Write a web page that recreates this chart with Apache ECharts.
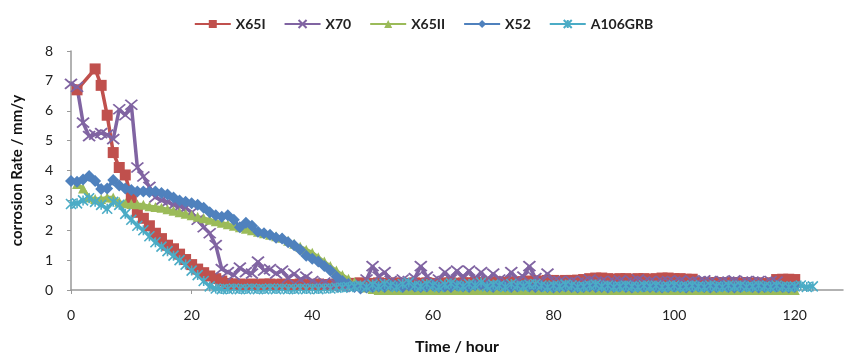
<!DOCTYPE html>
<html><head><meta charset="utf-8">
<script src="https://cdn.jsdelivr.net/npm/echarts@6/dist/echarts.min.js"></script>
<style>html,body{margin:0;padding:0;background:#fff}#c{width:847px;height:360px}</style>
</head><body><div id="c"></div>
<script>
var seriesNames = ['X65I','X70','X65II','X52','A106GRB'];
var xTicks = [0,20,40,60,80,100,120];
// values per hour (index = hour); null = no reading
var x65I = [null,6.7,null,null,7.4,6.85,5.85,4.6,4.1,3.85,3.1,2.6,2.4,2.15,1.9,1.72,1.5,1.38,1.2,1.02,0.85,0.7,0.58,0.47,0.38,0.3,
 0.22,0.2,0.2,0.18,0.2,0.18,0.2,0.2,0.18,0.2,0.18,0.18,0.2,0.18,0.18,0.2,0.18,0.18,0.2,0.2,
 0.22,0.22,0.24,0.22,0.22,0.24,0.22,0.22,0.24,0.22,0.22,0.24,0.22,0.24,0.22,0.22,0.24,0.24,0.22,0.24,0.24,0.25,0.25,0.24,0.27,0.27,0.25,0.27,0.27,0.28,0.3,0.3,0.3,0.32,
 0.32,0.3,0.32,0.32,0.33,0.35,
 0.38,0.4,0.4,0.38,0.36,0.38,0.38,0.36,0.38,0.38,0.36,0.38,0.4,0.4,0.38,0.38,0.36,0.36,
 0.25,0.25,0.24,0.25,0.24,0.25,0.25,0.24,0.25,0.24,0.24,0.22,0.24,
 0.35,0.36,0.36,0.35];
var x70 = [6.9,6.8,5.6,5.15,5.2,5.25,5.2,5.05,6.05,5.85,6.2,4.1,3.8,3.45,3.1,3.0,2.95,2.85,2.8,2.75,2.6,2.35,2.1,1.9,1.5,0.7,0.6,
 0.5,0.75,0.6,0.55,0.95,0.65,0.7,0.55,0.65,0.4,0.55,0.35,0.45,
 0.3,0.2,0.25,0.15,0.2,0.1,0.15,0.1,0.2,0.35,0.8,0.45,0.6,0.3,0.25,0.35,0.3,0.4,0.8,0.45,0.3,0.35,0.6,0.35,0.65,0.4,0.65,0.35,0.6,0.3,0.55,0.35,0.3,0.6,0.35,0.45,0.8,0.4,0.3,0.55,0.3,
 0.3,0.25,0.3,0.25,0.3,0.35,0.28,0.3,0.25,0.3,0.32,0.25,0.3,0.35,0.28,0.3,0.25,0.3,0.3,0.28,0.32,0.25,0.3,0.28,0.32,0.3,0.25,0.3,0.28,0.32,0.25,0.3,0.28,0.3,0.25,0.3,0.28];
var x65II = [null,3.55,3.4,3.1,3.05,3.05,3.1,3.1,2.95,2.9,2.88,2.87,2.85,2.8,2.78,2.75,2.7,2.65,2.6,2.55,2.5,2.45,2.4,2.35,2.3,2.25,2.2,2.15,2.1,2.05,2.0,1.95,1.9,1.85,1.8,1.75,1.65,1.55,1.45,1.35,1.25,1.1,0.95,0.8,0.65,0.5,0.38,0.27,0.15,0.08,0.03,
 0,0,0,0,0,0,0,0,0,0,0,0,0,0,0,0,0,0,0,0,0,0,0,0,0,0,0,0,0,0,0,0,0,0,0,0,0,0,0,0,0,0,0,0,0,0,0,0,0,0,0,0,0,0,0,0,0,0,0,0,0,0,0,0,0,0,0,0,0,0];
var x52 = [3.65,3.62,3.7,3.82,3.65,3.38,3.4,3.68,3.5,3.4,3.35,3.3,3.3,3.28,3.3,3.25,3.2,3.1,3.0,2.95,2.9,2.85,2.75,2.6,2.5,2.45,2.5,2.35,2.1,2.25,2.15,1.95,1.9,1.85,1.75,1.72,1.6,1.5,1.35,1.15,1.05,0.95,0.8,0.65,0.45,0.3,0.2,0.1,0.05,
 0.08,0.1,0.12,0.1,0.15,0.12,0.1,0.15,0.12,0.1,0.12,0.15,0.1,0.12,0.1,0.15,0.12,0.1,0.15,0.18,0.12,0.1,0.15,0.12,0.1,0.12,0.15,0.12,0.1,0.12,0.1,0.08,0.1,0.12,0.1,0.08,0.1,0.12,0.1,0.1,0.08,0.1,0.12,0.1,0.08,0.1,0.12,0.1,0.1,0.08,0.1,0.12,0.1,0.08,0.1,0.12,0.1,0.08,0.1,0.12,0.1,0.08,0.1,0.12,0.1,0.08,0.1,0.1,0.12,0.1,0.08,0.1];
var a106grb = [2.88,2.9,3.0,3.07,2.95,2.85,2.72,2.95,2.85,2.55,2.35,2.15,2.0,1.8,1.6,1.45,1.3,1.15,1.0,0.85,0.65,0.5,0.3,0.12,
 0.05,0.03,0.03,0.05,0.03,0.03,0.05,0.03,0.03,0.05,0.03,0.05,0.03,0.03,0.05,0.03,0.05,0.03,0.05,0.05,0.08,0.08,
 0.1,0.12,0.15,0.1,0.18,0.12,0.2,0.15,0.1,0.2,0.25,0.15,0.12,0.2,0.15,0.1,0.18,0.22,0.15,0.12,0.2,0.15,0.25,0.12,0.18,0.15,0.1,0.2,0.15,0.12,0.18,0.2,0.15,0.1,0.15,0.12,0.18,0.15,0.1,0.12,0.15,0.18,0.12,0.15,0.1,0.12,0.15,0.12,0.1,0.15,0.12,0.15,0.1,0.12,0.15,0.1,0.12,0.15,0.12,0.1,0.15,0.12,0.1,0.15,0.12,0.15,0.1,0.12,0.15,0.12,0.1,0.15,0.12,0.1,0.12,0.15,0.1,0.12];

function pairs(vals){var out=[];for(var i=0;i<vals.length;i++){if(vals[i]!==null)out.push([i,vals[i]]);}return out;}

var colors = ['#C0504D','#8064A2','#9BBB59','#4F81BD','#4BACC6'];
var symbols = ['rect','path://M0,0L10,10M10,0L0,10','triangle','diamond','path://M0,0L10,10M10,0L0,10M5,0L5,10'];
var sizes = [11,[12,10],10,12,10];
var borderW = [0,1.8,0,0,1.6];
var allVals = [x65I,x70,x65II,x52,a106grb];

var series = allVals.map(function(v,k){
  return {
    name: seriesNames[k], type:'line', data: pairs(v), connectNulls:true,
    symbol: symbols[k], symbolSize: sizes[k], showAllSymbol:true,
    lineStyle:{width:3.5,color:colors[k]},
    itemStyle:{color:colors[k], borderColor:colors[k], borderWidth:borderW[k]},
    emphasis:{disabled:true}, animation:false
  };
});

var chart = echarts.init(document.getElementById('c'));
chart.setOption({
  animation:false,
  color: colors,
  textStyle:{fontFamily:'Lato'},
  legend:{top:12, left:'center', itemWidth:36, itemHeight:10, itemGap:18,
    textStyle:{fontSize:14, fontWeight:'bold', color:'#222', fontFamily:'Lato'},
    data: seriesNames},
  grid:{left:71, top:51, right:4, bottom:64, containLabel:false},
  xAxis:{type:'value', min:0, max:128, interval:20,
    name:'Time / hour', nameLocation:'middle', nameGap:49,
    nameTextStyle:{fontSize:16, fontWeight:'bold', color:'#111', fontFamily:'Lato'},
    axisLine:{show:true, lineStyle:{color:'#999', width:1.5}},
    axisTick:{show:true, length:4, lineStyle:{color:'#999'}, customValues: xTicks},
    axisLabel:{fontSize:14, color:'#222', margin:18, customValues: xTicks},
    splitLine:{show:false}},
  yAxis:{type:'value', min:0, max:8, interval:1,
    name:'corrosion Rate / mm/y', nameLocation:'middle', nameGap:46, nameRotate:90,
    nameTextStyle:{fontSize:15, fontWeight:'bold', color:'#111', fontFamily:'Lato'},
    axisLine:{show:true, lineStyle:{color:'#999', width:1.5}},
    axisTick:{show:true, length:4, lineStyle:{color:'#999'}},
    axisLabel:{fontSize:14, color:'#222', margin:18},
    splitLine:{show:false}},
  series: series
});
</script></body></html>
